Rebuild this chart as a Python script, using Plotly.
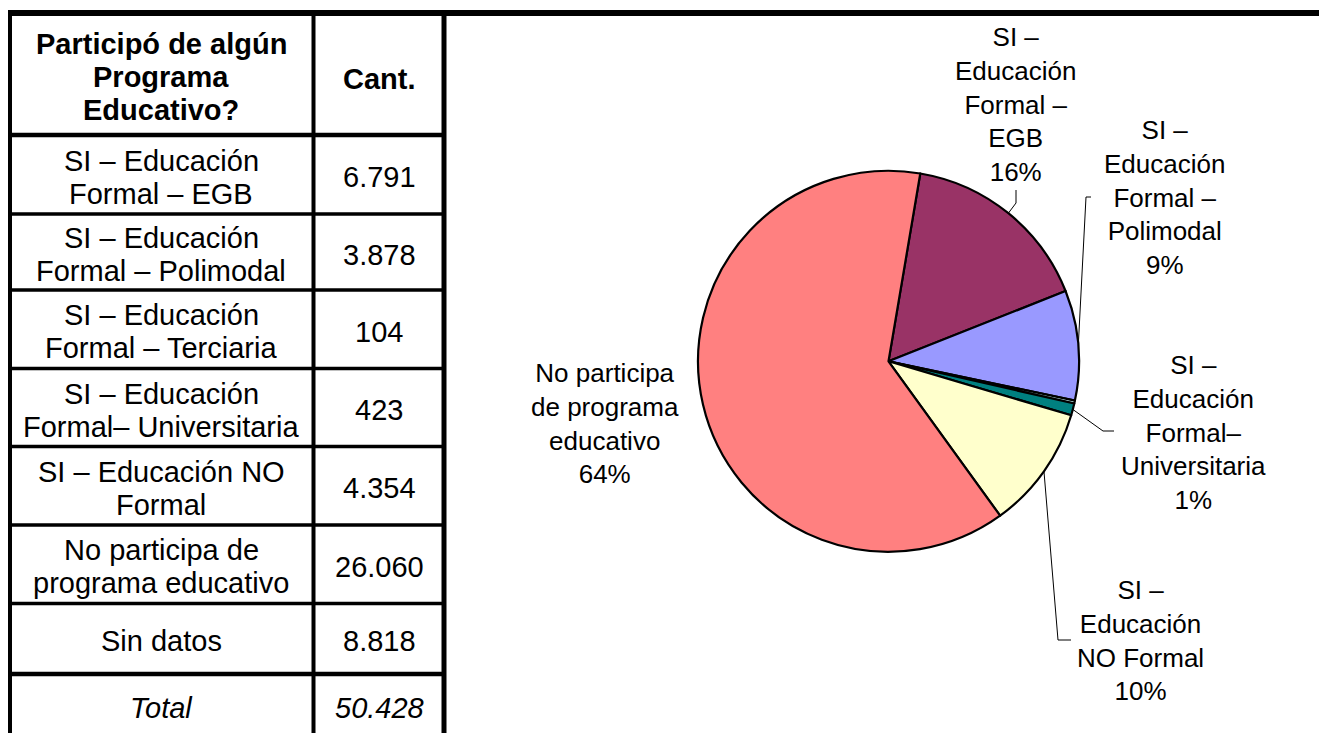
import plotly.graph_objects as go
import math

# ---------------- data ----------------
categories = [
    "SI – Educación\nFormal – EGB",
    "SI – Educación\nFormal – Polimodal",
    "SI – Educación\nFormal – Terciaria",
    "SI – Educación\nFormal– Universitaria",
    "SI – Educación NO\nFormal",
    "No participa de\nprograma educativo",
    "Sin datos",
]
counts = [6791, 3878, 104, 423, 4354, 26060, 8818]
header_cat = "Participó de algún\nPrograma\nEducativo?"
header_val = "Cant."
total_label = "Total"

pie_names = [
    "SI – Educación Formal – EGB",
    "SI – Educación Formal – Polimodal",
    "SI – Educación Formal – Terciaria",
    "SI – Educación Formal– Universitaria",
    "SI – Educación NO Formal",
    "No participa de programa educativo",
]
pie_values = counts[:6]
pie_label_text = [
    "SI –<br>Educación<br>Formal –<br>EGB<br>16%",
    "SI –<br>Educación<br>Formal –<br>Polimodal<br>9%",
    "",
    "SI –<br>Educación<br>Formal–<br>Universitaria<br>1%",
    "SI –<br>Educación<br>NO Formal<br>10%",
    "No participa<br>de programa<br>educativo<br>64%",
]
pie_colors = ["#993366", "#9999FF", "#CCFFFF", "#008080", "#FFFFCC", "#FF8080"]

# ---------------- layout geometry (page pixels) ----------------
W, H = 1327, 733
OFF = 8  # default page body margin; axis ranges are shifted so coordinates are page pixels
FONT = "Liberation Sans, Arial, sans-serif"

# pie geometry
CX, CY, R = 888.5, 361.3, 190.5
ROT = 9.6

# label positions / leader elbows
label_pos = [(1015, 104), (1164, 197), None, (1193, 432), (1140, 640), (605, 423)]
leader_elbows = [
    [(1016, 203), (1016, 190)],
    [(1086, 197), (1091, 197)],
    None,
    [(1103, 431), (1114, 431)],
    [(1058, 640), (1071, 640)],
    None,
]

# table geometry
X_LEFT, X_MID, X_RIGHT = 9, 313.5, 444
Y_TOP = 13
row_bounds = [Y_TOP, 135, 214, 290, 368.5, 446.5, 525, 603.5, 674, 760]
COL1_C, COL2_C = 161, 379
LINE_H = 33
TFONT = 29

fig = go.Figure()

fig.update_layout(
    xaxis=dict(range=[OFF, W + OFF], visible=False, domain=[0, 1], fixedrange=True),
    yaxis=dict(range=[H + OFF, OFF], visible=False, domain=[0, 1], fixedrange=True),
)

# ---------------- pie ----------------
fig.add_trace(go.Pie(
    values=pie_values,
    labels=pie_names,
    sort=False,
    direction="clockwise",
    rotation=ROT,
    marker=dict(colors=pie_colors, line=dict(color="black", width=2.2)),
    textinfo="none",
    showlegend=False,
    domain=dict(x=[(CX - OFF - R) / W, (CX - OFF + R) / W],
                y=[1 - (CY - OFF + R) / H, 1 - (CY - OFF - R) / H]),
))

# leader lines computed from slice mid angles
total_pie = sum(pie_values)
cum = 0
lx, ly = [], []
for i, v in enumerate(pie_values):
    mid = math.radians(ROT + 360.0 * (cum + v / 2) / total_pie)
    cum += v
    if leader_elbows[i] is None:
        continue
    ax = CX + R * math.sin(mid)
    ay = CY - R * math.cos(mid)
    pts = [(ax, ay)] + leader_elbows[i]
    lx += [p[0] for p in pts] + [None]
    ly += [p[1] for p in pts] + [None]
fig.add_trace(go.Scatter(x=lx, y=ly, mode="lines", line=dict(color="black", width=1),
                         hoverinfo="skip", showlegend=False))

annotations = []
for txt, pos in zip(pie_label_text, label_pos):
    if pos is None or not txt:
        continue
    annotations.append(dict(x=pos[0], y=pos[1], xref="x", yref="y", text=txt, showarrow=False,
                            xanchor="center", yanchor="middle", align="center",
                            font=dict(family=FONT, size=26, color="black")))

# ---------------- table ----------------
shapes = []
def hline(y, x0, x1, w):
    shapes.append(dict(type="line", xref="x", yref="y", x0=x0, x1=x1, y0=y, y1=y,
                       line=dict(color="black", width=w)))
def vline(x, y0, y1, w):
    shapes.append(dict(type="line", xref="x", yref="y", x0=x, x1=x, y0=y0, y1=y1,
                       line=dict(color="black", width=w)))

hline(Y_TOP, 6, W + 20, 6)
vline(X_LEFT, 10, H + 20, 6)
vline(X_MID, 10, H + 20, 4)
vline(X_RIGHT, 10, H + 20, 5)
for k, yb in enumerate(row_bounds[1:-1]):
    w = 4.5 if k in (0, len(row_bounds) - 3) else 3.5
    hline(yb, X_LEFT, X_RIGHT, w)

def cell_text(text, xc, yc, bold=False, italic=False):
    lines = text.split("\n")
    n = len(lines)
    for j, ln in enumerate(lines):
        y = yc + (j - (n - 1) / 2) * LINE_H
        t = ln
        if bold:
            t = "<b>" + t + "</b>"
        if italic:
            t = "<i>" + t + "</i>"
        annotations.append(dict(x=xc, y=y, xref="x", yref="y", text=t, showarrow=False,
                                xanchor="center", yanchor="middle",
                                font=dict(family=FONT, size=TFONT, color="black")))

def fmt(v):
    return f"{v:,}".replace(",", ".")

row_centers = [(row_bounds[i] + row_bounds[i + 1]) / 2 + 2.5 for i in range(len(row_bounds) - 1)]
row_centers[-1] = 708
cell_text(header_cat, COL1_C, row_centers[0], bold=True)
cell_text(header_val, COL2_C, row_centers[0] + 2, bold=True)
for i, (c, v) in enumerate(zip(categories, counts)):
    cell_text(c, COL1_C, row_centers[i + 1])
    cell_text(fmt(v), COL2_C, row_centers[i + 1])
cell_text(total_label, COL1_C, row_centers[-1], italic=True)
cell_text(fmt(sum(counts)), COL2_C, row_centers[-1], italic=True)

fig.update_layout(
    width=W, height=H,
    margin=dict(l=0, r=0, t=0, b=0),
    paper_bgcolor="white", plot_bgcolor="white",
    shapes=shapes, annotations=annotations,
    showlegend=False,
)

fig.write_html("out.html")
